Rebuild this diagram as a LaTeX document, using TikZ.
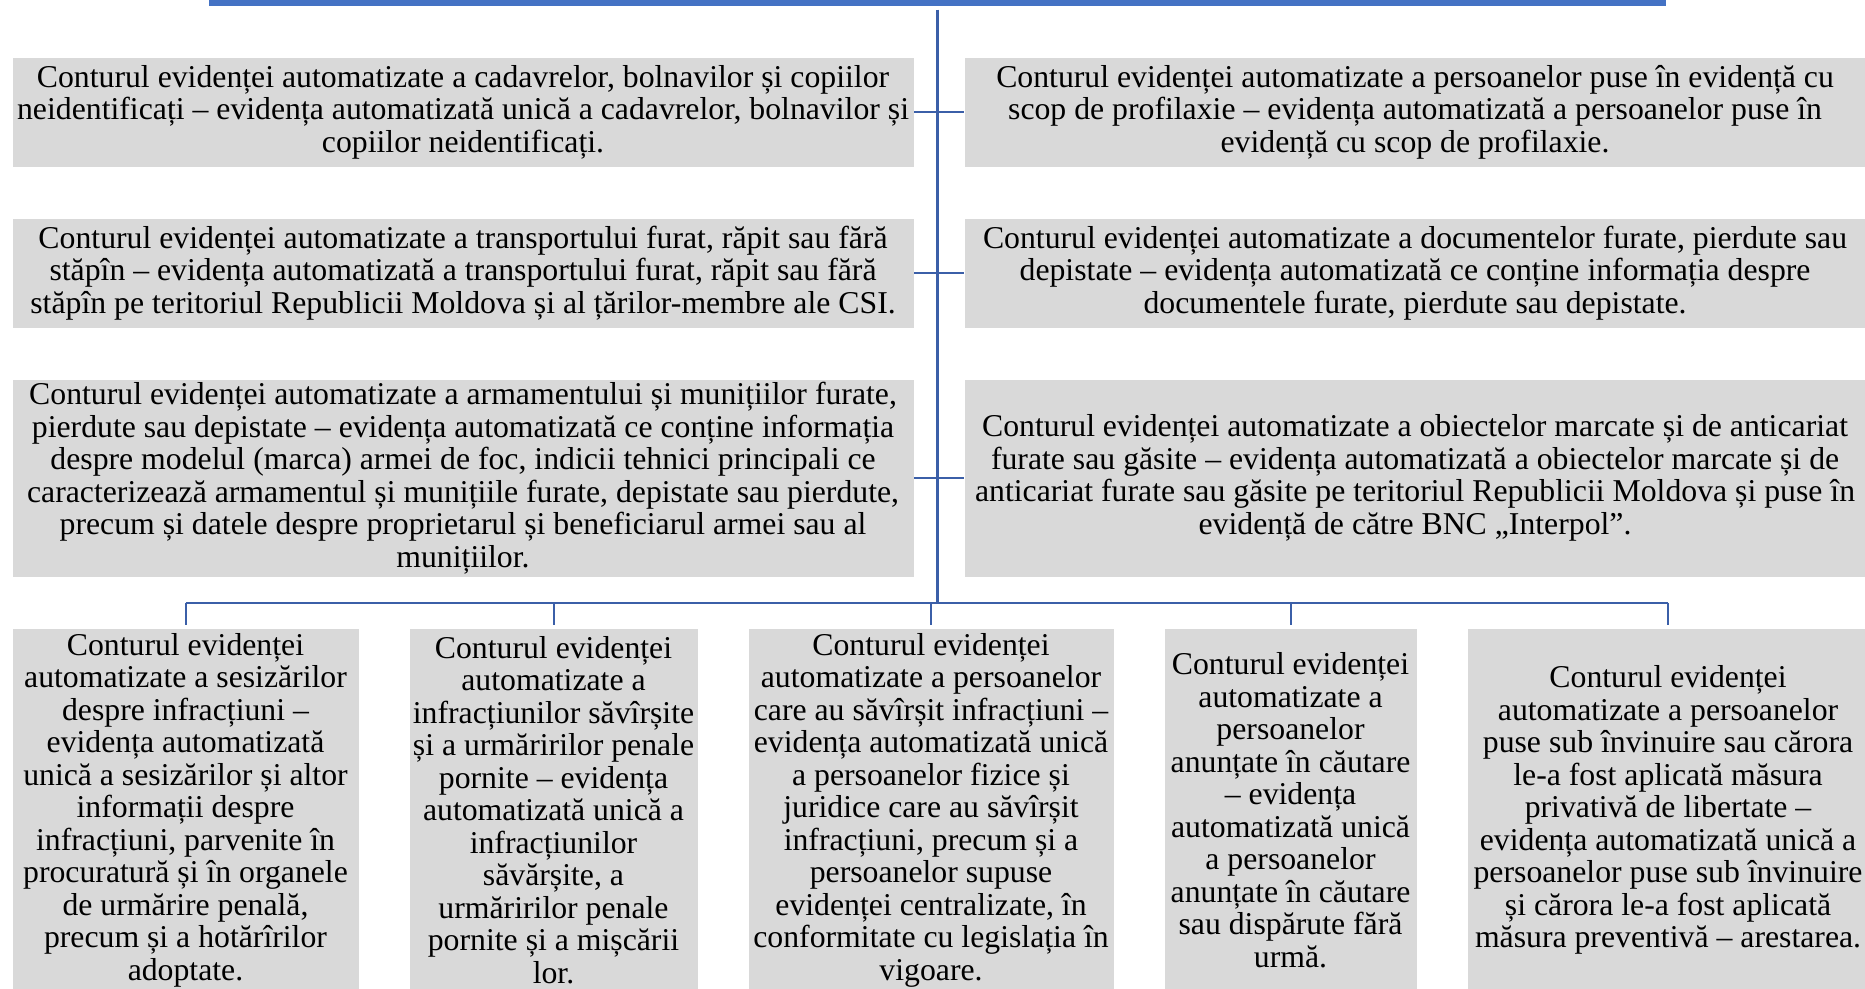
\documentclass[tikz,border=0pt]{standalone}
\usepackage{fontspec}
\setmainfont{Liberation Serif}
\usetikzlibrary{positioning, calc}
\definecolor{barblue}{HTML}{4472C4}
\definecolor{lineblue}{HTML}{3B5FA8}
\definecolor{boxgray}{HTML}{D9D9D9}
\newcommand{\boxfont}{\fontsize{12.7pt}{13pt}\selectfont}
\tikzset{
  rootbar/.style={fill=barblue, inner sep=0pt, minimum width=582.8pt, minimum height=2.4pt},
  recbox/.style={fill=boxgray, inner sep=0pt, align=center, font=\boxfont},
  widebox/.style={recbox, minimum width=360.4pt, minimum height=43.6pt},
  lowbox/.style={recbox, minimum height=145.2pt},
  treeline/.style={draw=lineblue, line width=0.8pt},
  trunkline/.style={draw=lineblue, line width=1.2pt},
}

\begin{document}
\begin{tikzpicture}[x=0.4pt, y=0.4pt, node distance=20.4pt and 20pt]
  \useasboundingbox (0,0) rectangle (1865,-988);

  \node[rootbar] (root) at (937.5,-3) {};

  \node[widebox, anchor=north west] (l1) at (12,-57) {Conturul evidenței automatizate a cadavrelor, bolnavilor și copiilor\\ neidentificați – evidența automatizată unică a cadavrelor, bolnavilor și\\ copiilor neidentificați.};
  \node[widebox, below=of l1] (l2) {Conturul evidenței automatizate a transportului furat, răpit sau fără\\ stăpîn – evidența automatizată a transportului furat, răpit sau fără\\ stăpîn pe teritoriul Republicii Moldova și al țărilor-membre ale CSI.};
  \node[widebox, minimum height=78.8pt, below=of l2] (l3) {Conturul evidenței automatizate a armamentului și munițiilor furate,\\ pierdute sau depistate – evidența automatizată ce conține informația\\ despre modelul (marca) armei de foc, indicii tehnici principali ce\\ caracterizează armamentul și munițiile furate, depistate sau pierdute,\\ precum și datele despre proprietarul și beneficiarul armei sau al\\ munițiilor.};

  \node[widebox, right=of l1] (r1) {Conturul evidenței automatizate a persoanelor puse în evidență cu\\ scop de profilaxie – evidența automatizată a persoanelor puse în\\ evidență cu scop de profilaxie.};
  \node[widebox, right=of l2] (r2) {Conturul evidenței automatizate a documentelor furate, pierdute sau\\ depistate – evidența automatizată ce conține informația despre\\ documentele furate, pierdute sau depistate.};
  \node[widebox, minimum height=78.8pt, right=of l3] (r3) {Conturul evidenței automatizate a obiectelor marcate și de anticariat\\ furate sau găsite – evidența automatizată a obiectelor marcate și de\\ anticariat furate sau găsite pe teritoriul Republicii Moldova și puse în\\ evidență de către BNC „Interpol”.};

  \node[lowbox, minimum width=138.4pt, below=of l3.south west, anchor=north west] (b1) {Conturul evidenței\\ automatizate a sesizărilor\\ despre infracțiuni –\\ evidența automatizată\\ unică a sesizărilor și altor\\ informații despre\\ infracțiuni, parvenite în\\ procuratură și în organele\\ de urmărire penală,\\ precum și a hotărîrilor\\ adoptate.};
  \node[lowbox, minimum width=115.2pt, right=of b1] (b2) {Conturul evidenței\\ automatizate a\\ infracțiunilor săvîrșite\\ și a urmăririlor penale\\ pornite – evidența\\ automatizată unică a\\ infracțiunilor\\ săvărșite, a\\ urmăririlor penale\\ pornite și a mișcării\\ lor.};
  \node[lowbox, minimum width=146pt, right=of b2] (b3) {Conturul evidenței\\ automatizate a persoanelor\\ care au săvîrșit infracțiuni –\\ evidența automatizată unică\\ a persoanelor fizice și\\ juridice care au săvîrșit\\ infracțiuni, precum și a\\ persoanelor supuse\\ evidenței centralizate, în\\ conformitate cu legislația în\\ vigoare.};
  \node[lowbox, minimum width=100.8pt, right=of b3] (b4) {Conturul evidenței\\ automatizate a\\ persoanelor\\ anunțate în căutare\\ – evidența\\ automatizată unică\\ a persoanelor\\ anunțate în căutare\\ sau dispărute fără\\ urmă.};
  \node[lowbox, minimum width=160.4pt, right=of b4] (b5) {Conturul evidenței\\ automatizate a persoanelor\\ puse sub învinuire sau cărora\\ le-a fost aplicată măsura\\ privativă de libertate –\\ evidența automatizată unică a\\ persoanelor puse sub învinuire\\ și cărora le-a fost aplicată\\ măsura preventivă – arestarea.};

  \coordinate (bus) at ($(l3.south)!0.5!(b1.north)$);

  \foreach \a/\b in {l1/r1, l2/r2, l3/r3} {
    \draw[treeline] (\a) -- (\b);
  }
  \draw[treeline] (b1.north |- bus) -- (b5.north |- bus);
  \foreach \b in {b1, b2, b3, b4, b5} {
    \draw[treeline] (\b.north |- bus) -- ([yshift=1.2pt]\b.north);
  }
  \draw[trunkline] ([yshift=-1.2pt]root.south) -- (root.south |- bus);
\end{tikzpicture}
\end{document}
